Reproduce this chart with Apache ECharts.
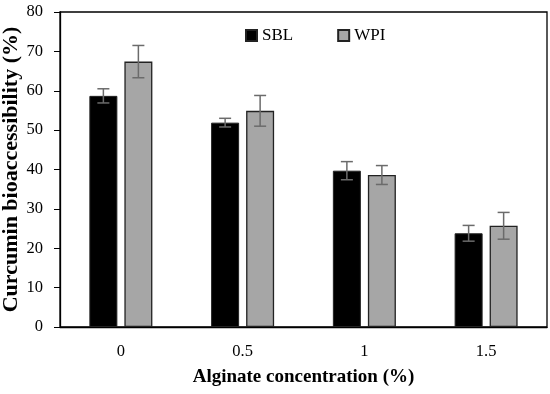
<!DOCTYPE html>
<html><head><meta charset="utf-8">
<script src="https://cdn.jsdelivr.net/npm/echarts@6/dist/echarts.min.js"></script>
<style>html,body{margin:0;padding:0;background:#fff}#c{width:550px;height:394px}</style>
</head><body><div id="c"></div>
<script>
var categories = ['0', '0.5', '1', '1.5'];
var sblValues = [58.7, 51.9, 39.7, 23.8];
var sblErrors = [1.8, 1.1, 2.3, 2.0];
var wpiValues = [67.4, 54.9, 38.6, 25.7];
var wpiErrors = [4.1, 3.9, 2.4, 3.4];
var yTicks = [0, 10, 20, 30, 40, 50, 60, 70, 80];

var FONT = 'Liberation Serif';
var chart = echarts.init(document.getElementById('c'));

function errData(vals, errs) {
  return vals.map(function (v, i) { return [i, v - errs[i], v + errs[i]]; });
}
function errSeries(vals, errs, side) {
  return {
    type: 'custom',
    z: 10,
    silent: true,
    data: errData(vals, errs),
    renderItem: function (params, api) {
      var ci = api.value(0);
      var lo = api.coord([ci, api.value(1)]);
      var hi = api.coord([ci, api.value(2)]);
      var bw = api.size([1, 0])[0];
      var barW = bw * 0.23;
      var gap = barW * 0.25;
      var off = side * (barW / 2 + gap / 2);
      var x = lo[0] + off;
      var cap = 6;
      var st = { stroke: '#6b6b6b', lineWidth: 1.5 };
      return { type: 'group', children: [
        { type: 'line', shape: { x1: x, y1: lo[1], x2: x, y2: hi[1] }, style: st },
        { type: 'line', shape: { x1: x - cap, y1: lo[1], x2: x + cap, y2: lo[1] }, style: st },
        { type: 'line', shape: { x1: x - cap, y1: hi[1], x2: x + cap, y2: hi[1] }, style: st }
      ]};
    }
  };
}

chart.setOption({
  animation: false,
  textStyle: { fontFamily: FONT },
  grid: { left: 60, right: 3, top: 12, bottom: 67, show: true, borderColor: '#000', borderWidth: 1.3,
          containLabel: false, outerBoundsMode: 'none' },
  legend: {
    data: ['SBL', 'WPI'],
    top: 22, left: 240,
    icon: 'rect',
    itemWidth: 11, itemHeight: 11, itemGap: 44,
    textStyle: { fontFamily: FONT, fontSize: 17, color: '#000' }
  },
  xAxis: {
    type: 'category',
    data: categories,
    name: 'Alginate concentration (%)',
    nameLocation: 'middle',
    nameGap: 41,
    nameTextStyle: { fontFamily: FONT, fontSize: 19, fontWeight: 'bold', color: '#000' },
    axisLine: { lineStyle: { color: '#000', width: 1.3 } },
    axisTick: { show: false },
    axisLabel: { fontFamily: FONT, fontSize: 16.5, color: '#000', margin: 16 }
  },
  yAxis: {
    type: 'value',
    min: 0, max: 80, interval: 10,
    name: 'Curcumin bioaccessibility (%)',
    nameLocation: 'middle',
    nameGap: 38,
    nameMoveOverlap: false,
    nameTextStyle: { fontFamily: FONT, fontSize: 22, fontWeight: 'bold', color: '#000' },
    axisLine: { show: true, lineStyle: { color: '#000', width: 1.3 } },
    axisTick: { show: true, length: 6, lineStyle: { color: '#000' } },
    splitLine: { show: false },
    axisLabel: { fontFamily: FONT, fontSize: 16.5, color: '#000', margin: 17,
      formatter: function (v) { return yTicks.indexOf(v) >= 0 ? String(v) : ''; } }
  },
  series: [
    { name: 'SBL', type: 'bar', data: sblValues, barWidth: '23%', barGap: '25%',
      itemStyle: { color: '#000', borderColor: '#222', borderWidth: 1 } },
    { name: 'WPI', type: 'bar', data: wpiValues, barWidth: '23%', barGap: '25%',
      itemStyle: { color: '#a6a6a6', borderColor: '#222', borderWidth: 1.3 } },
    errSeries(sblValues, sblErrors, -1),
    errSeries(wpiValues, wpiErrors, 1)
  ]
});
</script></body></html>
